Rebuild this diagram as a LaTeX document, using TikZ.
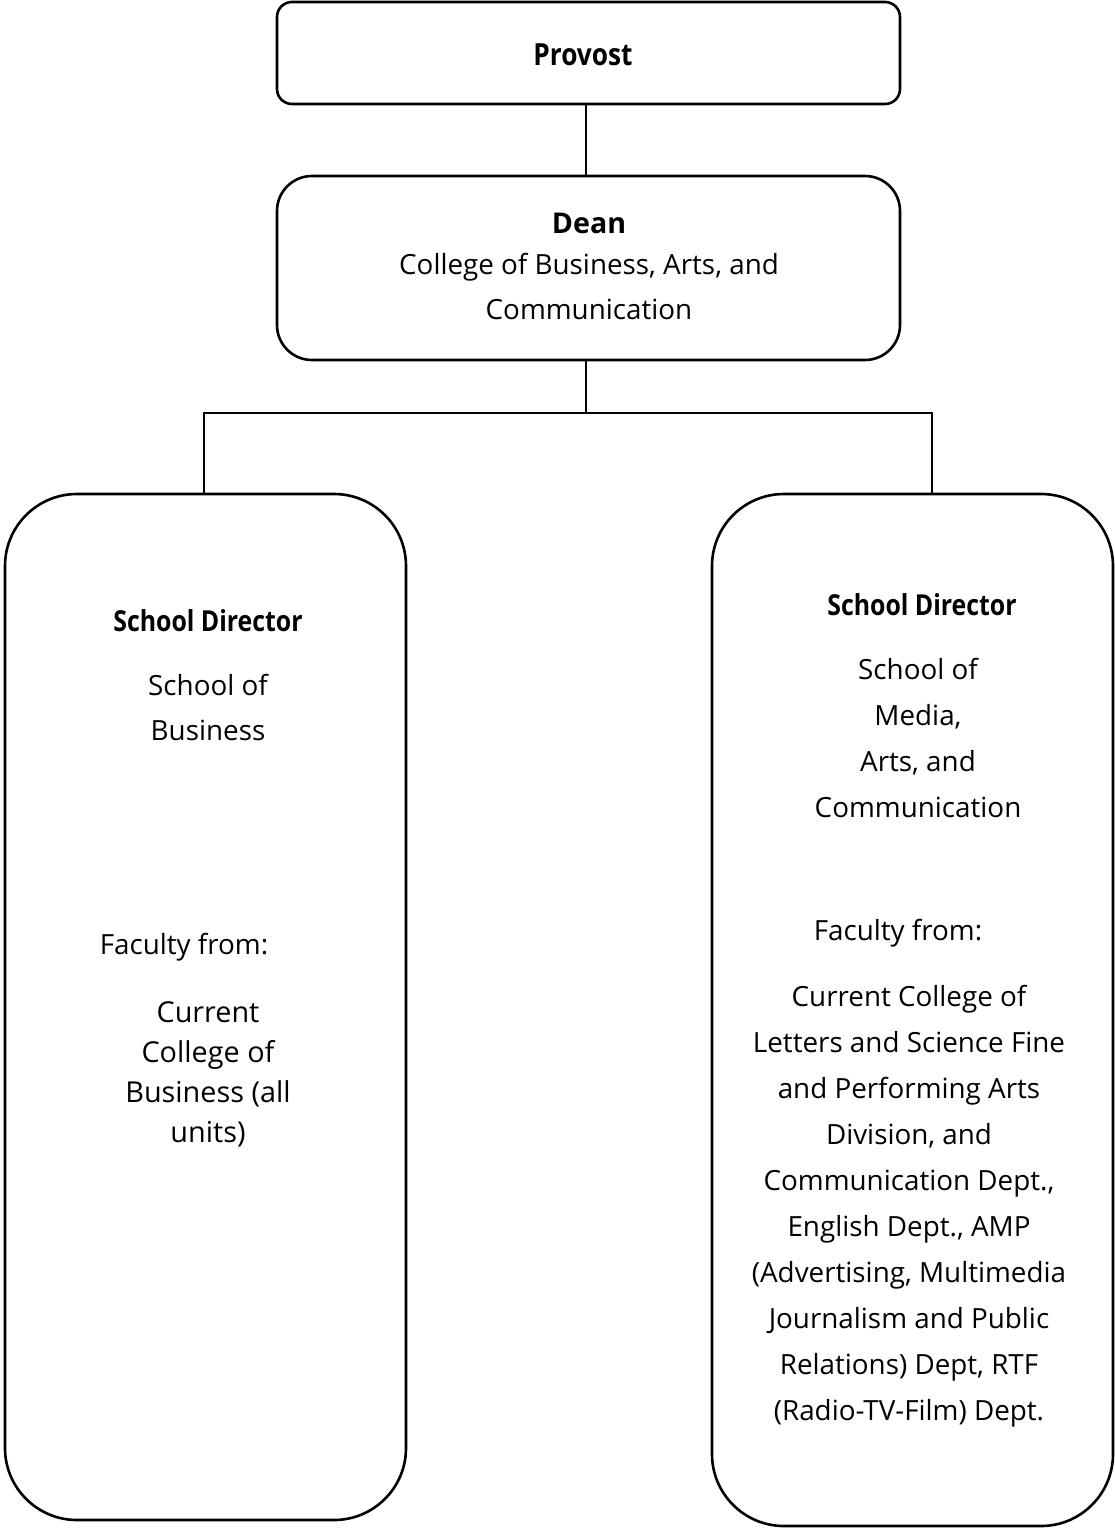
\documentclass[tikz,border=0pt]{standalone}
\usepackage{fontspec}
\setmainfont{Open Sans}
\newfontfamily\condfont[FakeStretch=0.86]{Open Sans}
\begin{document}
\begin{tikzpicture}[x=1pt,y=-1pt,
  box/.style={draw=black,line width=2.6pt,fill=white,inner sep=0pt},
  conn/.style={draw=black,line width=2.6pt},
  txt/.style={font=\fontsize{27.8}{45}\selectfont,align=center,inner sep=0pt},
  ttl/.style={font=\fontsize{28.9}{45}\selectfont\condfont\bfseries,align=center,inner sep=0pt}]
\useasboundingbox[fill=white] (0,0) rectangle (1115,1528);
% boxes
\node[box,minimum width=623pt,minimum height=102pt,rounded corners=15pt] (provost) at (588.5,53) {};
\node[box,minimum width=623pt,minimum height=184pt,rounded corners=35pt] (dean) at (588.5,268) {};
\node[box,minimum width=401pt,minimum height=1026pt,rounded corners=72pt] (left) at (205.5,1007) {};
\node[box,minimum width=401pt,minimum height=1032pt,rounded corners=72pt] (right) at (912.5,1010) {};
% texts
\node[ttl,font=\fontsize{30.5}{45}\selectfont\condfont\bfseries] (provostT) at (583,55) {Provost};
\node[txt,anchor=base] (deanT) at (589,319) {{\fontsize{28.6}{45}\selectfont\bfseries Dean}\\[-4pt]College of Business, Arts, and\\Communication};
\node[ttl] (lhead) at (208,621) {School Director};
\node[txt] (lname) at (208,707) {School of\\Business};
\node[txt] (lfac) at (184,947) {Faculty from:};
\node[txt,font=\fontsize{28.8}{40}\selectfont] (lunits) at (208,1074) {Current\\College of\\Business (all\\units)};
\node[ttl] (rhead) at (922,605) {School Director};
\node[txt,font=\fontsize{27.8}{46}\selectfont] (rname) at (918,738) {School of\\Media,\\Arts, and\\Communication};
\node[txt] (rfac) at (898,933) {Faculty from:};
\node[txt,font=\fontsize{27.8}{46}\selectfont] (runits) at (909,1206) {Current College of\\Letters and Science Fine\\and Performing Arts\\Division, and\\Communication Dept.,\\English Dept., AMP\\(Advertising, Multimedia\\Journalism and Public\\Relations) Dept, RTF\\(Radio-TV-Film) Dept.};
% connectors
\coordinate (bus) at (586,413);
\draw[conn] ([xshift=-2.5pt]provost.south) -- ([xshift=-2.5pt]dean.north);
\draw[conn] ([xshift=-2.5pt]dean.south) -- (bus);
\draw[conn] (bus) -| ([xshift=-1.5pt]left.north);
\draw[conn] (bus) -| ([xshift=19.5pt]right.north);
\end{tikzpicture}
\end{document}
